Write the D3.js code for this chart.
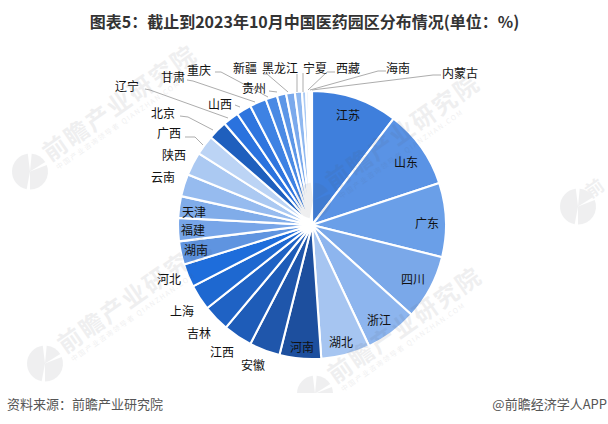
<!DOCTYPE html>
<html><head><meta charset="utf-8">
<script src="https://cdnjs.cloudflare.com/ajax/libs/d3/7.8.5/d3.min.js"></script>
<style>html,body{margin:0;padding:0;background:#fff}svg{display:block}</style>
</head><body><svg id="c" width="608" height="424"></svg>
<script>
const provinces = ["江苏","山东","广东","四川","浙江","湖北","河南","安徽","江西","吉林","上海","河北","湖南","福建","天津","云南","陕西","广西","北京","辽宁","山西","甘肃","重庆","贵州","新疆","黑龙江","宁夏","西藏","海南","内蒙古"];
const shares = [10.4,9.5,8.9,7.8,6.3,5.9,5.0,3.7,3.5,3.2,3.1,2.8,2.8,2.8,2.6,2.7,2.8,2.4,2.3,1.9,1.8,2.0,1.4,1.1,1.05,0.85,0.5,0.3,0.2,0.2];
const colours = ["#3f7fdc","#5a93e5","#6a9fe8","#7aa8e9","#8db5ee","#a6c5f1","#1d4f9e","#1f56ab","#1e5cb8","#1f62c4","#1e68d0","#1e6ddb","#5f94e0","#77a5e8","#80ace9","#96bbef","#abc9f2","#bcd4f5","#1f5fbd","#2a72de","#2f75de","#3e82e3","#4a8ae4","#5c96e7","#7aa9ec","#8fb8f0","#a9c9f3","#c3daf6","#dbe9fa","#eef4fc"];
const titleText = "图表5：截止到2023年10月中国医药园区分布情况(单位：%)";
const sourceText = "资料来源：前瞻产业研究院";
const creditText = "@前瞻经济学人APP";
const watermarkText = "前瞻产业研究院";
const watermarkSub = "中国产业咨询领导者 QIANZHAN.COM";

const FONT = '"Noto Sans CJK SC","Noto Sans",sans-serif';
const svg = d3.select("#c");
const cx = 312, cy = 225, R = 134;

const spots = {"江苏":[348,114],"山东":[406,161],"广东":[427,222],"四川":[413,278],"浙江":[379,319],"湖北":[341,341],"河南":[302,346],"安徽":[253,364],"江西":[222,351],"吉林":[199,332],"上海":[182,310],"河北":[169,278],"湖南":[196,249],"福建":[193,229],"天津":[194,211],"云南":[163,176],"陕西":[174,154],"广西":[169,132],"北京":[163,112],"辽宁":[127,85],"山西":[220,103],"甘肃":[173,76],"重庆":[199,69],"贵州":[254,87],"新疆":[245,67],"黑龙江":[280,67],"宁夏":[315,67],"西藏":[348,67],"海南":[398,67],"内蒙古":[460,72]};
const leaders = {"广西":[[185,137],[195,137],[203,145]],"北京":[[180,116],[188,117],[213,130]],"辽宁":[[145,89],[150,90],[228,118]],"山西":[[235,105],[240,107]],"甘肃":[[187,80],[193,81],[255,102]],"重庆":[[215,72],[221,72],[268,97]],"贵州":[[269,91],[277,92]],"新疆":[[263,74],[267,74],[288,92]],"黑龙江":[[297,74],[297,92]],"宁夏":[[303,73],[303,92]],"西藏":[[335,72],[327,72],[308,90]],"海南":[[386,71],[378,71],[310,90]],"内蒙古":[[441,75],[433,75],[312,90]]};

const pie = d3.pie().sort(null).value(d => d)(shares);
const arc = d3.arc().innerRadius(0).outerRadius(R);
const g = svg.append("g").attr("transform",`translate(${cx},${cy})`);
g.selectAll("path").data(pie).join("path").attr("d",arc)
  .attr("fill",(d,i)=>colours[i]).attr("stroke","#fff").attr("stroke-width",2.1).attr("stroke-linejoin","round");

svg.selectAll("path.leader").data(Object.values(leaders)).join("path").attr("class","leader")
  .attr("d",d3.line()).attr("fill","none").attr("stroke","#adadad").attr("stroke-width",1);

// watermarks, anchored on the first glyph and clipped above the footer band
svg.append("clipPath").attr("id","wmclip").append("rect").attr("width",608).attr("height",393);
const wmLayer = svg.append("g").attr("clip-path","url(#wmclip)");
const marks = [[55,148],[70,340],[340,370],[338,177],[603,183]];
const wm = wmLayer.selectAll("g.wm").data(marks).join("g").attr("class","wm")
  .attr("transform",d=>`translate(${d[0]},${d[1]}) rotate(-35)`).attr("fill","#505560").attr("opacity",0.085);
const logoArc = d3.arc().innerRadius(0).outerRadius(18);
const logo = wm.append("g").attr("transform","translate(-34,5) rotate(35)");
logo.append("path").attr("d",logoArc({startAngle:Math.PI*1.06,endAngle:Math.PI*1.96}));
logo.append("path").attr("d",logoArc({startAngle:Math.PI*0.03,endAngle:Math.PI*0.32}));
logo.append("path").attr("d",logoArc({startAngle:Math.PI*0.38,endAngle:Math.PI*1.0}));
const full = wm.filter(d => d[0] < 600);
full.append("text").attr("x",-12).attr("y",9).attr("font-family",FONT).attr("font-weight",700).attr("font-size",24).attr("letter-spacing",2).text(watermarkText);
full.append("text").attr("x",-10).attr("y",20).attr("font-family",FONT).attr("font-size",7).attr("letter-spacing",1.5).text(watermarkSub);
wm.filter(d => d[0] >= 600).append("text").attr("x",-19).attr("y",6).attr("font-family",FONT).attr("font-weight",700).attr("font-size",18).text(watermarkText[0]);

svg.selectAll("text.lab").data(provinces).join("text").attr("class","lab")
  .attr("x",d=>spots[d][0]).attr("y",d=>spots[d][1]).attr("text-anchor","middle").attr("dominant-baseline","central")
  .attr("font-family",FONT).attr("font-size",12).attr("fill","#111").text(d=>d);

svg.append("text").attr("x",304.5).attr("y",21).attr("text-anchor","middle").attr("dominant-baseline","central")
  .attr("font-family",FONT).attr("font-weight",700).attr("font-size",16).attr("fill","#333").text(titleText);
svg.append("text").attr("x",7).attr("y",403).attr("dominant-baseline","central").attr("font-family",FONT).attr("font-size",13).attr("fill","#555").text(sourceText);
svg.append("text").attr("x",607).attr("y",403).attr("text-anchor","end").attr("dominant-baseline","central").attr("font-family",FONT).attr("font-size",13).attr("fill","#555").text(creditText);
</script></body></html>
